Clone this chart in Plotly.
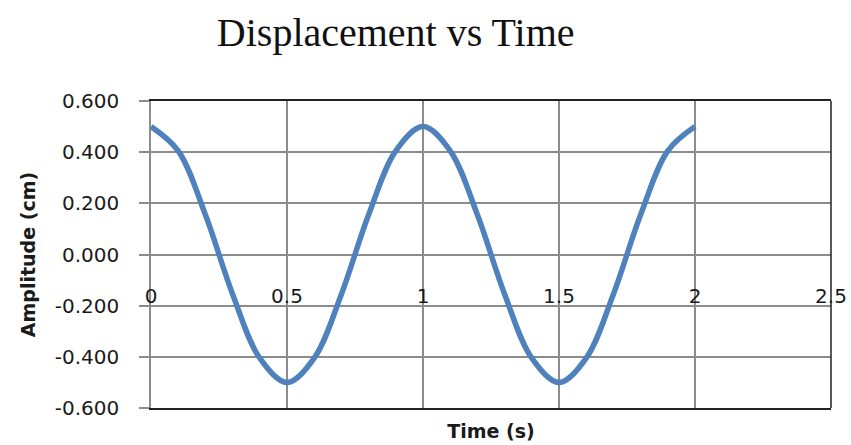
import plotly.graph_objects as go

time_s = [0.0, 0.1, 0.2, 0.3, 0.4, 0.5, 0.6, 0.7, 0.8, 0.9, 1.0,
          1.1, 1.2, 1.3, 1.4, 1.5, 1.6, 1.7, 1.8, 1.9, 2.0]
amplitude_cm = [0.500, 0.405, 0.155, -0.155, -0.405, -0.500, -0.405, -0.155, 0.155, 0.405, 0.500,
                0.405, 0.155, -0.155, -0.405, -0.500, -0.405, -0.155, 0.155, 0.405, 0.500]
x_ticks = [0, 0.5, 1, 1.5, 2, 2.5]
x_tick_labels = ["0", "0.5", "1", "1.5", "2", "2.5"]
y_ticks = [-0.6, -0.4, -0.2, 0.0, 0.2, 0.4, 0.6]
y_tick_labels = ["-0.600", "-0.400", "-0.200", "0.000", "0.200", "0.400", "0.600"]

title_text = "Displacement vs Time"
x_title = "Time (s)"
y_title = "Amplitude (cm)"

FONT = "DejaVu Sans"
TXT = "#1a1a1a"
GRID = "#8c8c8c"

fig = go.Figure()
fig.add_trace(go.Scatter(
    x=time_s, y=amplitude_cm, mode="lines",
    line=dict(color="#4F81BD", width=5.5, shape="spline", smoothing=1.0),
    showlegend=False, hoverinfo="skip"))
# invisible trace so the label axis is drawn
fig.add_trace(go.Scatter(x=[0, 2.5], y=[0, 0], xaxis="x2", mode="lines",
                         line=dict(width=0), showlegend=False, hoverinfo="skip"))

fig.update_layout(
    width=851, height=445,
    paper_bgcolor="white", plot_bgcolor="white",
    margin=dict(l=151, r=20, t=101, b=37, autoexpand=False),
    title=dict(text=title_text, x=0.465, xanchor="center", y=0.927, yanchor="middle",
               yref="container", font=dict(family="Liberation Serif", size=40, color="#111")),
    xaxis=dict(range=[0, 2.5], tickvals=x_ticks, showticklabels=False, automargin=False,
               showgrid=True, gridcolor=GRID, gridwidth=1.5,
               showline=True, linecolor="#222", linewidth=1.5, mirror=True,
               zeroline=False, ticks="",
               title=dict(text="<b>" + x_title + "</b>", standoff=16,
                          font=dict(family=FONT, size=19, color=TXT))),
    xaxis2=dict(range=[0, 2.5], overlaying="x", anchor="free", position=0.41, side="bottom",
                automargin=False,
                tickvals=x_ticks, ticktext=x_tick_labels, showgrid=False, zeroline=False,
                showline=False, ticks="", tickfont=dict(family=FONT, size=20, color=TXT)),
    yaxis=dict(range=[-0.6, 0.6], tickvals=y_ticks, ticktext=y_tick_labels, automargin=False,
               showgrid=True, gridcolor=GRID, gridwidth=1.5,
               zeroline=False, showline=True, linecolor=GRID, linewidth=1.5,
               ticks="outside", ticklen=10, tickcolor=GRID, tickwidth=1.5,
               ticklabelstandoff=16,
               tickfont=dict(family=FONT, size=20, color=TXT),
               title=dict(text="<b>" + y_title + "</b>", standoff=14,
                          font=dict(family=FONT, size=19, color=TXT))),
)
fig.add_shape(type="line", xref="x domain", yref="y domain", x0=1, x1=1, y0=0, y1=1,
              line=dict(color="#222", width=1.5))

fig.write_html("out.html", config={"displayModeBar": False},
               post_script="document.body.style.margin='0';")
